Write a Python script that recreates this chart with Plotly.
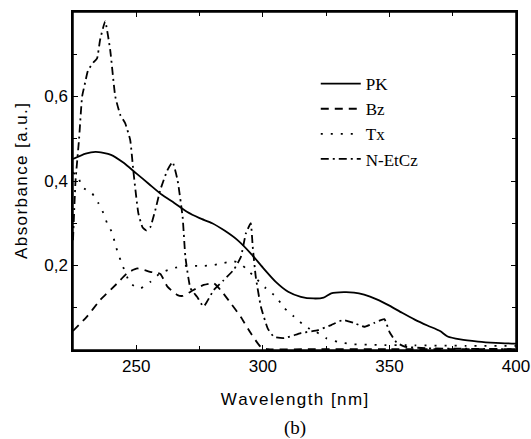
import plotly.graph_objects as go

# PK (solid)
pk_x = [225, 230, 234, 240, 245, 250, 255, 260, 265, 270, 275, 280, 285, 290, 295, 300, 305, 310, 315, 320, 324, 327, 332, 336, 340, 345, 350, 355, 360, 365, 370, 373, 378, 385, 392, 400]
pk_y = [0.452, 0.465, 0.469, 0.462, 0.443, 0.418, 0.393, 0.368, 0.348, 0.327, 0.312, 0.300, 0.282, 0.260, 0.230, 0.195, 0.162, 0.138, 0.126, 0.122, 0.124, 0.134, 0.137, 0.136, 0.131, 0.120, 0.105, 0.088, 0.072, 0.058, 0.045, 0.032, 0.025, 0.020, 0.017, 0.015]

# Bz (dashed)
bz_x = [225, 230.5, 235.7, 242.5, 246.4, 250.4, 255.5, 259.5, 262.3, 266.3, 268.3, 272.6, 276.6, 280.6, 283.3, 287.3, 291.3, 295.2, 299.2, 302, 320, 350, 400]
bz_y = [0.045, 0.079, 0.118, 0.158, 0.182, 0.193, 0.185, 0.180, 0.150, 0.130, 0.128, 0.142, 0.154, 0.158, 0.142, 0.111, 0.078, 0.040, 0.007, 0.002, 0.002, 0.002, 0.002]

# Tx (dotted)
tx_x = [225, 227, 228.6, 232.5, 235, 237, 238.5, 240.5, 241.7, 243, 244.4, 247.6, 251.6, 255.5, 259.5, 264.3, 268.7, 276.6, 280.6, 284.5, 288.5, 291, 293.3, 297.2, 301.2, 305.2, 308.4, 312.3, 317, 321, 325, 329.8, 335, 345, 360, 380, 400]
tx_y = [0.42, 0.41, 0.386, 0.371, 0.348, 0.324, 0.300, 0.277, 0.250, 0.225, 0.203, 0.158, 0.146, 0.161, 0.182, 0.193, 0.199, 0.199, 0.201, 0.206, 0.210, 0.205, 0.193, 0.170, 0.146, 0.126, 0.100, 0.079, 0.055, 0.043, 0.028, 0.019, 0.014, 0.012, 0.011, 0.010, 0.010]

# N-EtCz (dash-dot)
ne_x = [225, 226, 227.4, 228.6, 229.5, 231, 233, 234.5, 235.7, 237.7, 239.7, 241.7, 243.7, 245.6, 247.6, 248.8, 250.8, 252.5, 254, 255.5, 257.5, 259.5, 262.3, 264.3, 266.3, 268.3, 269.4, 271.4, 274, 276.6, 280.6, 284.5, 288.5, 291.3, 293.3, 295.2, 296, 297.2, 299.2, 302, 304.4, 308.4, 315, 321.8, 327, 331.7, 336, 340, 344, 348, 350, 352.8, 356, 365, 380, 400]
ne_y = [0.26, 0.40, 0.50, 0.60, 0.625, 0.663, 0.680, 0.690, 0.734, 0.778, 0.710, 0.600, 0.556, 0.537, 0.497, 0.426, 0.324, 0.290, 0.283, 0.290, 0.331, 0.379, 0.426, 0.445, 0.402, 0.315, 0.220, 0.146, 0.126, 0.103, 0.142, 0.165, 0.190, 0.220, 0.276, 0.300, 0.244, 0.173, 0.103, 0.050, 0.031, 0.028, 0.040, 0.047, 0.059, 0.071, 0.064, 0.055, 0.064, 0.073, 0.043, 0.018, 0.008, 0.004, 0.003, 0.002]

y_tickvals = [0.2, 0.4, 0.6]
y_ticktext = ["0,2", "0,4", "0,6"]
x_tickvals = [250, 300, 350, 400]

HS = "\u200a"  # hair space for letter spacing


def spaced(s):
    return HS.join(list(s))


fig = go.Figure()
fig.add_trace(go.Scatter(x=pk_x, y=pk_y, name="PK", mode="lines",
                         line=dict(color="black", width=1.8, shape="spline", smoothing=0.6)))
fig.add_trace(go.Scatter(x=bz_x, y=bz_y, name="Bz", mode="lines",
                         line=dict(color="black", width=1.8, dash="8px,6px", shape="spline", smoothing=0.5)))
fig.add_trace(go.Scatter(x=tx_x, y=tx_y, name="Tx", mode="lines",
                         line=dict(color="black", width=1.8, dash="2px,8px", shape="spline", smoothing=0.5)))
fig.add_trace(go.Scatter(x=ne_x, y=ne_y, name="N-EtCz", mode="lines",
                         line=dict(color="black", width=1.8, dash="8px,4px,2px,4px", shape="spline", smoothing=0.4)))

axis_common = dict(showline=True, linecolor="black", linewidth=1.5, mirror="allticks",
                   ticks="inside", ticklen=5, tickcolor="black", showgrid=False, zeroline=False,
                   automargin=False,
                   tickfont=dict(family="Liberation Sans, Arial", size=17, color="black"))

fig.update_xaxes(range=[225, 400], tickvals=x_tickvals,
                 minor=dict(ticks="inside", ticklen=4, dtick=25, tick0=225, tickcolor="black"),
                 title=dict(text=spaced("Wavelength [nm]"),
                            font=dict(family="Liberation Sans, Arial", size=17, color="black"), standoff=18),
                 **axis_common)
fig.update_yaxes(range=[0, 0.8], tickvals=y_tickvals, ticktext=y_ticktext,
                 minor=dict(ticks="inside", ticklen=4, dtick=0.1, tick0=0, tickcolor="black"),
                 title=dict(text=spaced("Absorbance [a.u.]"),
                            font=dict(family="Liberation Sans, Arial", size=17, color="black"), standoff=12),
                 **axis_common)

fig.add_shape(type="rect", xref="paper", yref="paper", x0=0, y0=0, x1=1, y1=1,
              line=dict(color="black", width=1.5), fillcolor="rgba(0,0,0,0)", layer="above")

fig.add_annotation(text="(b)", xref="paper", yref="paper", x=0.5, y=-0.268,
                   showarrow=False, font=dict(family="Liberation Serif, Times New Roman", size=19, color="black"))

fig.update_layout(
    width=531, height=439, autosize=False,
    margin=dict(l=73, r=15, t=12, b=89),
    plot_bgcolor="white", paper_bgcolor="white",
    legend=dict(x=0.548, y=0.84, xanchor="left", yanchor="top", bgcolor="rgba(0,0,0,0)",
                font=dict(family="Liberation Serif, Times New Roman", size=17, color="black"),
                tracegroupgap=0, itemwidth=40),
)

fig.write_html("out.html",
               config={"displayModeBar": False, "responsive": False},
               post_script="document.body.style.margin='0';document.body.style.overflow='hidden';")
